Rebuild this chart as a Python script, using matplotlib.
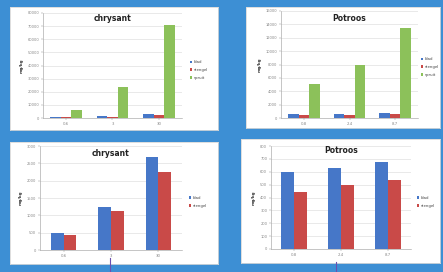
import matplotlib
matplotlib.use("Agg")
import matplotlib.pyplot as plt
import numpy as np
from matplotlib.patches import Rectangle

# ---- data ----
chrys_cats = ["0.6", "3", "30"]
potroos_cats = ["0.8", "2.4", "8.7"]
series_all = ["blad", "stengel", "spruit"]
series_two = ["blad", "stengel"]

chrys_blad = [500, 1250, 2680]
chrys_stengel = [430, 1130, 2250]
chrys_spruit = [5800, 24000, 70500]

pot_blad = [600, 627, 673]
pot_stengel = [444, 500, 537]
pot_spruit = [5100, 7950, 13400]

chrys_top_ticks = list(range(0, 80001, 10000))
pot_top_ticks = list(range(0, 16001, 2000))
chrys_bot_ticks = list(range(0, 3001, 500))
pot_bot_ticks = list(range(0, 801, 100))

ylabel = "mg/kg"

# ---- style ----
W, H = 443, 272
BG = "#3d8fd4"
C_BLUE = "#4677c8"
C_RED = "#c94a48"
C_GREEN = "#8cc15a"

fig = plt.figure(figsize=(W / 100, H / 100), dpi=100)
fig.patch.set_facecolor(BG)


def rect_px(x0, y0, x1, y1):
    return [x0 / W, 1 - y1 / H, (x1 - x0) / W, (y1 - y0) / H]


def panel(box, axbox, cats, series_vals, names, colors, ticks, title,
          bar_w, leg_xy, title_y):
    bg = fig.add_axes(rect_px(*box), zorder=-5)
    bg.set_facecolor("white")
    bg.set_xticks([])
    bg.set_yticks([])
    for s in bg.spines.values():
        s.set_color("#d8d8d8")
        s.set_linewidth(0.6)
    ax = fig.add_axes(rect_px(*axbox), zorder=1)
    ax.set_facecolor("none")
    x = np.arange(len(cats))
    n = len(series_vals)
    handles = []
    for i, (vals, c) in enumerate(zip(series_vals, colors)):
        off = (i - (n - 1) / 2) * bar_w
        h = ax.bar(x + off, vals, width=bar_w, color=c, zorder=3)
        handles.append(h)
    ax.set_xlim(-0.5, len(cats) - 0.5)
    ax.set_ylim(ticks[0], ticks[-1])
    ax.set_yticks(ticks)
    ax.set_yticklabels([str(t) for t in ticks], fontsize=2.6, color="#555555")
    ax.set_xticks(x)
    ax.set_xticklabels(cats, fontsize=2.8, color="#555555")
    ax.tick_params(length=1.2, width=0.3, pad=1.5, colors="#888888")
    ax.grid(axis="y", color="#d9d9d9", lw=0.4, zorder=0)
    for s in ["top", "right"]:
        ax.spines[s].set_visible(False)
    ax.spines["left"].set_color("#999999")
    ax.spines["bottom"].set_color("#999999")
    ax.spines["left"].set_linewidth(0.4)
    ax.spines["bottom"].set_linewidth(0.4)
    ax.text(0.5, title_y, title, transform=ax.transAxes, ha="center", va="center",
            fontsize=5.5, fontweight="bold", color="#222222", zorder=5)
    ax.set_ylabel(ylabel, fontsize=3, fontweight="bold", color="#333333", labelpad=3)
    lx, ly = leg_xy
    leg = fig.legend(handles, names, loc="center left",
                     bbox_to_anchor=(lx / W, 1 - ly / H), frameon=False,
                     fontsize=2.8, handlelength=0.6, handleheight=0.6,
                     handletextpad=0.4, labelspacing=1.0, labelcolor="#444444",
                     borderpad=0.2, borderaxespad=0)
    leg.set_zorder(6)
    return ax


panel((10, 7, 218, 130), (43, 13, 182, 118), chrys_cats,
      [chrys_blad, chrys_stengel, chrys_spruit], series_all,
      [C_BLUE, C_RED, C_GREEN], chrys_top_ticks, "chrysant", 0.23, (189, 70), 0.95)
panel((246, 7, 440, 128), (281, 11, 418, 118), potroos_cats,
      [pot_blad, pot_stengel, pot_spruit], series_all,
      [C_BLUE, C_RED, C_GREEN], pot_top_ticks, "Potroos", 0.23, (420, 67), 0.93)
panel((10, 142, 218, 264), (40, 146, 182, 250), chrys_cats,
      [chrys_blad, chrys_stengel], series_two,
      [C_BLUE, C_RED], chrys_bot_ticks, "chrysant", 0.27, (188, 202), 0.93)
panel((241, 139, 440, 263), (271, 146, 411, 249), potroos_cats,
      [pot_blad, pot_stengel], series_two,
      [C_BLUE, C_RED], pot_bot_ticks, "Potroos", 0.28, (416, 202), 0.96)

# small decorations below the lower panels
fig.lines.append(plt.Line2D([110 / W, 110 / W], [1 - 258 / H, 0], transform=fig.transFigure,
                            color="#6a4fb0", lw=0.8, zorder=10))
fig.lines.append(plt.Line2D([336 / W, 336 / W], [1 - 262 / H, 0], transform=fig.transFigure,
                            color="#6a4fb0", lw=0.8, zorder=10))

fig.savefig("out.png", dpi=100, facecolor=BG)
